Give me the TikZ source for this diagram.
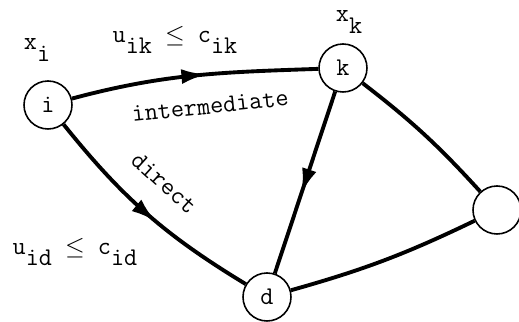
\documentclass[tikz,border=0pt]{standalone}
\usetikzlibrary{arrows.meta,decorations.markings}

\newcommand{\lo}[1]{\raisebox{-6.5pt}{#1}}

\begin{document}
\begin{tikzpicture}[every node/.style={font=\ttfamily\fontsize{14.5}{17}\selectfont}, v/.style={draw, circle, line width=0.9pt, minimum size=9.6mm, inner sep=0pt}, e/.style={line width=2.2pt}, midarrow/.style={postaction={decorate}, decoration={markings, mark=at position #1 with {\arrow{Latex[length=5mm,width=3mm]}}}}]
	\useasboundingbox (0,0) rectangle (10.38,6.44);
	\node[v] (i) at (0.96,4.34) {i};
	\node[v] (k) at (6.86,5.08) {k};
	\node[v] (d) at (5.34,0.50) {d};
	\node[v] (r) at (9.94,2.24) {};
	\draw[e, midarrow=0.55] (i) to[out=15, in=182] (k);
	\draw[e, midarrow=0.55] (i) to[bend right=10] (d);
	\draw[e, midarrow=0.56] (k) -- (d);
	\draw[e] (k) to[bend left=5] (r);
	\draw[e] (d) to[bend right=5] (r);
	\node (xi) at (0.74,5.44) {x\lo{i}};
	\node (xk) at (6.98,6.00) {x\lo{k}};
	\node (cik) at (3.50,5.64) {u\lo{ik} $\leq$ c\lo{ik}};
	\node (cid) at (1.50,1.40) {u\lo{id} $\leq$ c\lo{id}};
	\node[rotate=6] (mid) at (4.20,4.32) {intermediate};
	\node[rotate=-42] (dir) at (3.28,2.78) {direct};
\end{tikzpicture}
\end{document}
